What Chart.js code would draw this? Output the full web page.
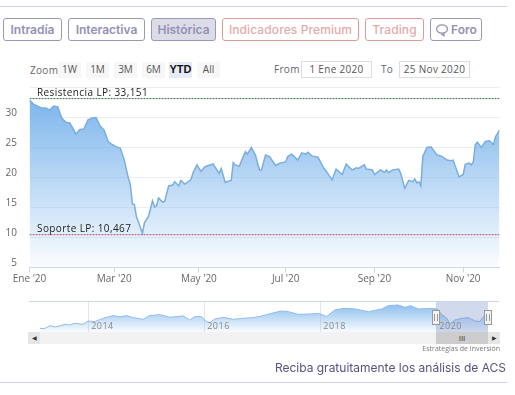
<!DOCTYPE html>
<html>
<head>
<meta charset="utf-8">
<title>ACS - Histórica</title>
<script src="https://cdn.jsdelivr.net/npm/chart.js@4/dist/chart.umd.min.js"></script>
<style>
    html, body { margin: 0; padding: 0; background: #fff; overflow: hidden; }
    #page { position: relative; width: 515px; height: 395px; font-family: "Open Sans", sans-serif; }
    #page > * { position: absolute; box-sizing: border-box; }
    canvas { position: absolute; left: 0; }
    .rule { left: 0; width: 507px; height: 1px; background: #d4d3e3; }
    .tab { top: 18px; height: 23px; text-align: center; border: 1px solid #9a99bd; border-radius: 3px;
           font: 600 12px/21px Inter, sans-serif; color: #9391b3; white-space: nowrap; }
    .tab.on { background: #dcdce8; }
    .tab.red { border-color: #dc9c9c; color: #e3abab; font-weight: 500; letter-spacing: 0.1px; }
    .tab svg { vertical-align: -3px; margin-right: 2px; }
    .range { top: 62px; height: 16px; width: 23px; background: #f7f7f7; text-align: center; font-size: 10px; line-height: 15px; color: #555; }
    .range.on { background: #e6ebf5; color: #111; font-weight: bold; font-family: "Liberation Sans", sans-serif; font-size: 11px; }
    .small { font-size: 10px; color: #666; line-height: 14px; letter-spacing: 0.3px; }
    .date { top: 61px; height: 17px; width: 71px; border: 1px solid #ddd; text-align: center; font-size: 10px; line-height: 15px; color: #555; letter-spacing: 0.3px; }
</style>
</head>
<body>
<div id="page">
    <div class="rule" style="top:6px"></div>
    <div class="rule" style="top:382px"></div>
    <div class="small" style="left:30px;top:63px">Zoom</div>
    <div class="small" style="left:274px;top:62px">From</div>
    <div class="small" style="left:381px;top:62px">To</div>
    <div class="date" style="left:301px">1 Ene 2020</div>
    <div class="date" style="left:399px">25 Nov 2020</div>
    <canvas id="mainChart" width="515" height="215" style="top:80px"></canvas>
    <div style="left:28px;top:332px;width:472px;height:12px;background:#f2f2f2"></div>
    <div style="left:28px;top:332px;width:12px;height:12px;background:#e6e6e6;color:#333;font-size:6px;line-height:12px;text-align:center">◀</div>
    <div style="left:436px;top:332px;width:52px;height:12px;background:#cccccc;color:#333;font-size:8px;line-height:12px;text-align:center">III</div>
    <div style="left:488px;top:332px;width:12px;height:12px;background:#e6e6e6;color:#333;font-size:6px;line-height:12px;text-align:center">▶</div>
    <canvas id="navChart" width="515" height="50" style="top:295px"></canvas>
    <div style="right:15px;top:344px;font-size:7px;line-height:9px;color:#777">Estrategias de Inversión</div>
    <div style="right:9px;top:360px;font:400 12px/16px Inter, sans-serif;color:#55527f;white-space:nowrap">Reciba gratuitamente los análisis de ACS</div>
</div>
<script>
// Main series: trading session number and close
const sessions = [0,2,4,6,8,10,12,14,16,18,20,22,23,25,27,29,31,33,35,37,39,41,43,45,47,49,50,51,52,53,54,56,57,59,61,62,63,64,66,67,69,71,72,74,75,77,80,81,83,85,87,91,94,95,97,100,101,102,104,107,108,110,112,114,115,117,119,122,124,127,128,130,133,135,137,138,140,143,146,147,150,152,155,157,160,162,163,166,167,170,171,174,176,177,178,180,183,184,186,188,190,191,192,193,194,195,197,199,202,204,207,209,210,213,215,216,218,219,220,221,222,224,226,228,230,231,233];
const closes = [32.9,32.2,31.9,31.6,31.6,31.25,31.9,31.75,29.9,29.2,29.1,27.9,27.25,28,28.1,29.6,29.9,30,28.6,27.9,26,25.5,25.1,24.9,22.9,19.9,18.75,15.6,15.5,13.5,12.6,10.7,12.5,13.5,16.1,15.1,15.3,16.6,15.9,16,18.6,18.75,19.3,18.6,19.5,18.9,19.6,20.7,22.1,21,21.8,22.25,20.7,21.5,19.2,19.5,22.5,22.1,21.9,24.3,23.9,25,23.75,21.25,21.25,23.75,23.5,22,22.4,22.6,23.5,23.9,22.9,24.1,23.9,24.2,23.6,23.4,21.5,21.1,19.6,21.4,20.5,22.25,21.25,21.6,21.5,22.1,21.4,21.25,20.5,21.25,20.85,21.25,20.8,21.25,21.4,20.7,18.2,19.5,19.3,19.75,19.1,19.3,18.6,23.5,25,25.1,23.75,23.6,22.9,22.8,22.9,20.1,20.5,22.2,22.4,22.1,22.6,25.5,25.9,25,26,26.1,25.5,26.8,27.9];

// Axis ticks
const monthTicks = [0, 42, 84, 127, 171, 215];
const monthLabels = ["Ene '20", "Mar '20", "May '20", "Jul '20", "Sep '20", "Nov '20"];
const priceTicks = [5, 10, 15, 20, 25, 30, 35];

// Long term levels
const resistance = 33.151;
const support = 10.467;
const resistanceLabel = 'Resistencia LP: 33,151';
const supportLabel = 'Soporte LP: 10,467';

// Navigator series
const navYears = [2013.17,2013.25,2013.34,2013.43,2013.51,2013.6,2013.68,2013.77,2013.91,2014,2014.11,2014.26,2014.43,2014.55,2014.66,2014.78,2014.95,2015.06,2015.24,2015.41,2015.52,2015.64,2015.75,2015.84,2015.95,2016.04,2016.1,2016.18,2016.33,2016.5,2016.67,2016.84,2016.99,2017.16,2017.33,2017.45,2017.62,2017.82,2017.97,2018.11,2018.25,2018.4,2018.6,2018.83,2019.06,2019.17,2019.34,2019.46,2019.55,2019.69,2019.92,2020.01,2020.09,2020.18,2020.24,2020.32,2020.44,2020.55,2020.67,2020.75,2020.81,2020.89];
const navCloses = [5.4,5,8.5,7,8.1,10.1,9.3,11.3,10.1,14,13.3,17.2,20.4,18.8,20.4,18,16,20.4,21.5,18.4,19.2,20,15.2,19.2,19.2,13.3,12.1,16.4,18.4,16,17.2,18,20,23.1,25.9,25.1,21.9,22.3,23.1,19.2,27.1,29,28.3,25.1,28.3,32.2,33,30.2,32.2,28.3,29,28.3,21.9,17.2,10.1,15.2,17.2,18,14,13.3,19.2,20.4];
const navTicks = [2014, 2016, 2018, 2020];

// Toolbar contents
const tabs = ['Intradía', 'Interactiva', 'Histórica', 'Indicadores Premium', 'Trading', 'Foro'];
const tabLeft = [3, 68, 151, 222, 365, 430];
const tabWidth = [59, 77, 65, 137, 59, 52];
const ranges = ['1W', '1M', '3M', '6M', 'YTD', 'All'];
const rangeLeft = [58, 86, 114, 142, 169, 197];

const bubble = '<svg width="14" height="14" viewBox="0 0 14 14" fill="none" stroke="#9391b3" stroke-width="1.2"><ellipse cx="7" cy="6" rx="5.5" ry="4.2"/><path d="M6 10.5l3 2.5l0-3"/></svg>';

const page = document.getElementById('page');
tabs.forEach((name, i) => {
    const div = document.createElement('div');
    div.className = 'tab' + (i == 2 ? ' on' : '') + (i == 3 || i == 4 ? ' red' : '');
    div.style.left = tabLeft[i] + 'px';
    div.style.width = tabWidth[i] + 'px';
    div.innerHTML = (name == 'Foro' ? bubble : '') + name;
    page.appendChild(div);
});
ranges.forEach((name, i) => {
    const div = document.createElement('div');
    div.className = 'range' + (name == 'YTD' ? ' on' : '');
    div.style.left = rangeLeft[i] + 'px';
    div.textContent = name;
    page.appendChild(div);
});

function pairs(xs, ys) {
    return xs.map((x, i) => ({ x: x, y: ys[i] }));
}

// Price labels sit above their grid lines, the level captions above their lines
const mainLabels = {
    id: 'mainLabels',
    afterDraw(chart) {
        const ctx = chart.ctx;
        const y = chart.scales.y;
        ctx.save();
        ctx.font = '10px "Open Sans"';
        ctx.fillStyle = '#666';
        ctx.textAlign = 'right';
        ctx.textBaseline = 'middle';
        priceTicks.slice(0, -1).forEach(t => ctx.fillText(t, 17, y.getPixelForValue(t) - 4.5));
        ctx.fillStyle = '#222';
        ctx.textAlign = 'left';
        ctx.textBaseline = 'alphabetic';
        ctx.letterSpacing = '0.4px';
        ctx.fillText(resistanceLabel, 37, y.getPixelForValue(resistance) - 3);
        ctx.fillText(supportLabel, 37, y.getPixelForValue(support) - 3);
        ctx.restore();
    }
};

new Chart(document.getElementById('mainChart'), {
    type: 'line',
    data: {
        datasets: [
            {
                data: pairs(sessions, closes),
                borderColor: '#7aaedd',
                borderWidth: 1.5,
                pointRadius: 0,
                tension: 0,
                fill: 'start',
                backgroundColor: ctx => {
                    const area = ctx.chart.chartArea;
                    if (!area) return '#7cb5ec';
                    const grad = ctx.chart.ctx.createLinearGradient(0, area.top + 10, 0, area.bottom);
                    grad.addColorStop(0, 'rgba(124,181,236,1)');
                    grad.addColorStop(1, 'rgba(124,181,236,0.03)');
                    return grad;
                }
            },
            {
                data: pairs([0, 233], [resistance, resistance]),
                borderColor: '#3d6b4f',
                borderWidth: 1,
                borderDash: [2, 1],
                pointRadius: 0
            },
            {
                data: pairs([0, 233], [support, support]),
                borderColor: '#b23a48',
                borderWidth: 1,
                borderDash: [2, 1],
                pointRadius: 0
            }
        ]
    },
    options: {
        responsive: false,
        animation: false,
        layout: { padding: { top: 7.5, right: 15.5 } },
        plugins: { legend: { display: false }, tooltip: { enabled: false } },
        scales: {
            x: {
                type: 'linear',
                min: 0,
                max: 233,
                afterBuildTicks: scale => { scale.ticks = monthTicks.map(v => ({ value: v })); },
                afterFit: scale => { scale.height = 27.5; },
                ticks: {
                    autoSkip: false,
                    maxRotation: 0,
                    padding: 1,
                    color: '#666',
                    font: { family: 'Open Sans', size: 10 },
                    callback: v => monthLabels[monthTicks.indexOf(v)]
                },
                grid: { drawOnChartArea: false, tickLength: 5, tickColor: '#ccd6eb' },
                border: { color: '#ccd6eb' }
            },
            y: {
                min: 5,
                max: 35,
                afterBuildTicks: scale => { scale.ticks = priceTicks.map(v => ({ value: v })); },
                afterFit: scale => { scale.width = 29.5; },
                ticks: { display: false },
                grid: { color: '#eeeeee', drawTicks: false },
                border: { display: false }
            }
        }
    },
    plugins: [mainLabels]
});

// Shaded window, its two handles and the year labels
const navWindow = {
    id: 'navWindow',
    afterDraw(chart) {
        const ctx = chart.ctx;
        const x = chart.scales.x;
        const area = chart.chartArea;
        const from = x.getPixelForValue(2020.0);
        const to = x.getPixelForValue(2020.89);
        ctx.save();
        ctx.fillStyle = 'rgba(102,133,194,0.3)';
        ctx.fillRect(from, area.top, to - from, area.bottom - area.top);
        ctx.strokeStyle = '#ccd6eb';
        ctx.beginPath();
        ctx.moveTo(29, area.top - 0.5);
        ctx.lineTo(499, area.top - 0.5);
        ctx.stroke();
        ctx.font = '9px "Open Sans"';
        ctx.fillStyle = '#888';
        ctx.textBaseline = 'alphabetic';
        ctx.letterSpacing = '0.5px';
        navTicks.forEach(t => ctx.fillText(t, x.getPixelForValue(t) + 3, area.bottom - 3));
        [from, to].forEach(px => {
            const cx = Math.round(px);
            ctx.fillStyle = '#f2f2f2';
            ctx.strokeStyle = '#999';
            ctx.fillRect(cx - 3.5, 15.5, 7, 14);
            ctx.strokeRect(cx - 3.5, 15.5, 7, 14);
            ctx.beginPath();
            ctx.moveTo(cx - 1.5, 19);
            ctx.lineTo(cx - 1.5, 26);
            ctx.moveTo(cx + 1.5, 19);
            ctx.lineTo(cx + 1.5, 26);
            ctx.stroke();
        });
        ctx.restore();
    }
};

new Chart(document.getElementById('navChart'), {
    type: 'line',
    data: {
        datasets: [{
            data: pairs(navYears, navCloses),
            borderColor: '#8fbce8',
            borderWidth: 1,
            pointRadius: 0,
            tension: 0,
            fill: 'start',
            backgroundColor: ctx => {
                const area = ctx.chart.chartArea;
                if (!area) return '#7cb5ec';
                const grad = ctx.chart.ctx.createLinearGradient(0, area.top + 3, 0, area.bottom);
                grad.addColorStop(0, 'rgba(124,181,236,0.85)');
                grad.addColorStop(1, 'rgba(124,181,236,0.05)');
                return grad;
            }
        }]
    },
    options: {
        responsive: false,
        animation: false,
        layout: { padding: { top: 7, left: 40, right: 27, bottom: 13 } },
        plugins: { legend: { display: false }, tooltip: { enabled: false } },
        scales: {
            x: {
                type: 'linear',
                min: 2013.17,
                max: 2020.89,
                afterBuildTicks: scale => { scale.ticks = navTicks.map(v => ({ value: v })); },
                afterFit: scale => { scale.height = 0; },
                ticks: { display: false },
                grid: { color: '#e6e6e6', drawTicks: false },
                border: { display: false }
            },
            y: {
                display: false,
                min: 1,
                max: 36.5
            }
        }
    },
    plugins: [navWindow]
});
</script>
</body>
</html>
